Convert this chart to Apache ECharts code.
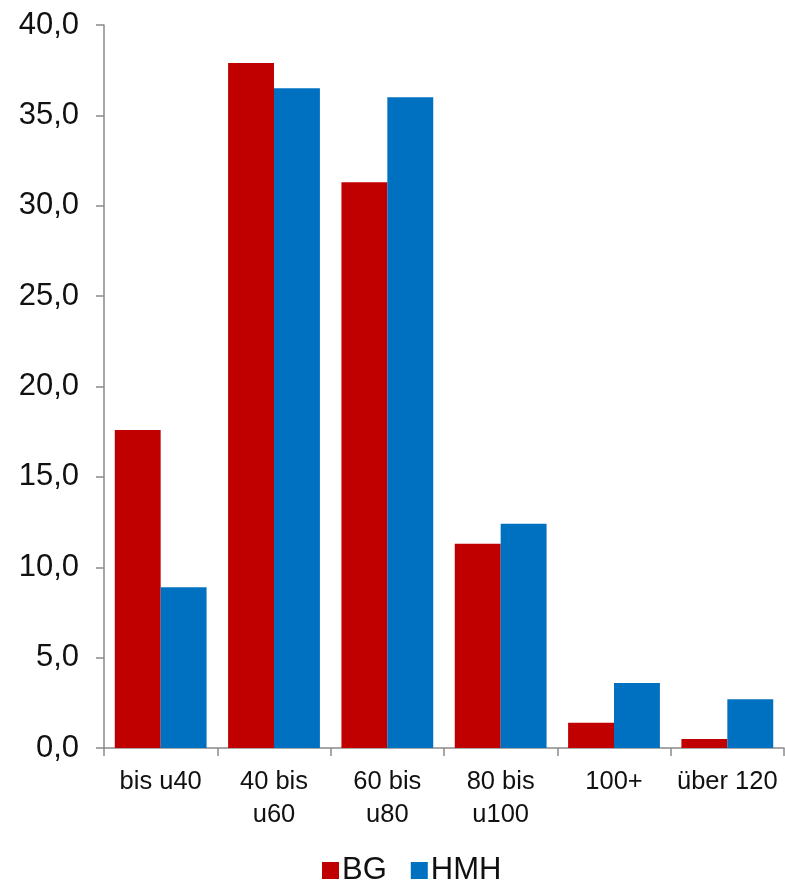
<!DOCTYPE html>
<html>
<head>
<meta charset="utf-8">
<script src="https://cdn.jsdelivr.net/npm/echarts@6/dist/echarts.min.js"></script>
<style>
  html, body { margin: 0; padding: 0; background: #fff; }
  #chart { width: 785px; height: 880px; }
</style>
</head>
<body>
<div id="chart"></div>
<script>
// Weight classes and shares (%) for the two groups
const categories = ['bis u40', '40 bis\nu60', '60 bis\nu80', '80 bis\nu100', '100+', 'über 120'];
const seriesNames = ['BG', 'HMH'];
const valuesBG = [17.6, 37.9, 31.3, 11.3, 1.4, 0.5];
const valuesHMH = [8.9, 36.5, 36.0, 12.4, 3.6, 2.7];
const yMin = 0, yMax = 40, yStep = 5;

const colors = ['#C00000', '#0070C0'];
const axisGrey = '#8a8a8a';
const font = '"Liberation Sans", Arial, sans-serif';

const chart = echarts.init(document.getElementById('chart'), null, { renderer: 'canvas' });

chart.setOption({
  animation: false,
  color: colors,
  textStyle: { fontFamily: font, color: '#000' },
  grid: { left: 104, right: 1, top: 25, bottom: 132, containLabel: false },
  legend: {
    data: seriesNames,
    left: 317,
    top: 850,
    itemWidth: 17,
    itemHeight: 17,
    itemGap: 24,
    icon: 'rect',
    textStyle: { fontFamily: font, fontSize: 31, color: '#111', padding: [0, 0, 0, -2] }
  },
  xAxis: {
    type: 'category',
    data: categories,
    axisLine: { show: true, lineStyle: { color: axisGrey, width: 1.5 } },
    axisTick: { show: true, alignWithLabel: false, length: 8, lineStyle: { color: axisGrey, width: 1.5 } },
    axisLabel: {
      interval: 0,
      margin: 17,
      fontFamily: font,
      fontSize: 25.5,
      lineHeight: 33,
      color: '#111'
    },
    splitLine: { show: false }
  },
  yAxis: {
    type: 'value',
    min: yMin,
    max: yMax,
    interval: yStep,
    axisLine: { show: true, lineStyle: { color: axisGrey, width: 1.5 } },
    axisTick: { show: true, inside: false, length: 8, lineStyle: { color: axisGrey, width: 1.5 } },
    axisLabel: {
      margin: 25,
      fontFamily: font,
      fontSize: 31,
      color: '#111',
      formatter: v => v.toFixed(1).replace('.', ',')
    },
    splitLine: { show: false }
  },
  series: [
    {
      name: seriesNames[0],
      type: 'bar',
      data: valuesBG,
      barGap: '0%',
      barCategoryGap: '19%',
      itemStyle: { color: colors[0] }
    },
    {
      name: seriesNames[1],
      type: 'bar',
      data: valuesHMH,
      barGap: '0%',
      barCategoryGap: '19%',
      itemStyle: { color: colors[1] }
    }
  ]
});
</script>
</body>
</html>
